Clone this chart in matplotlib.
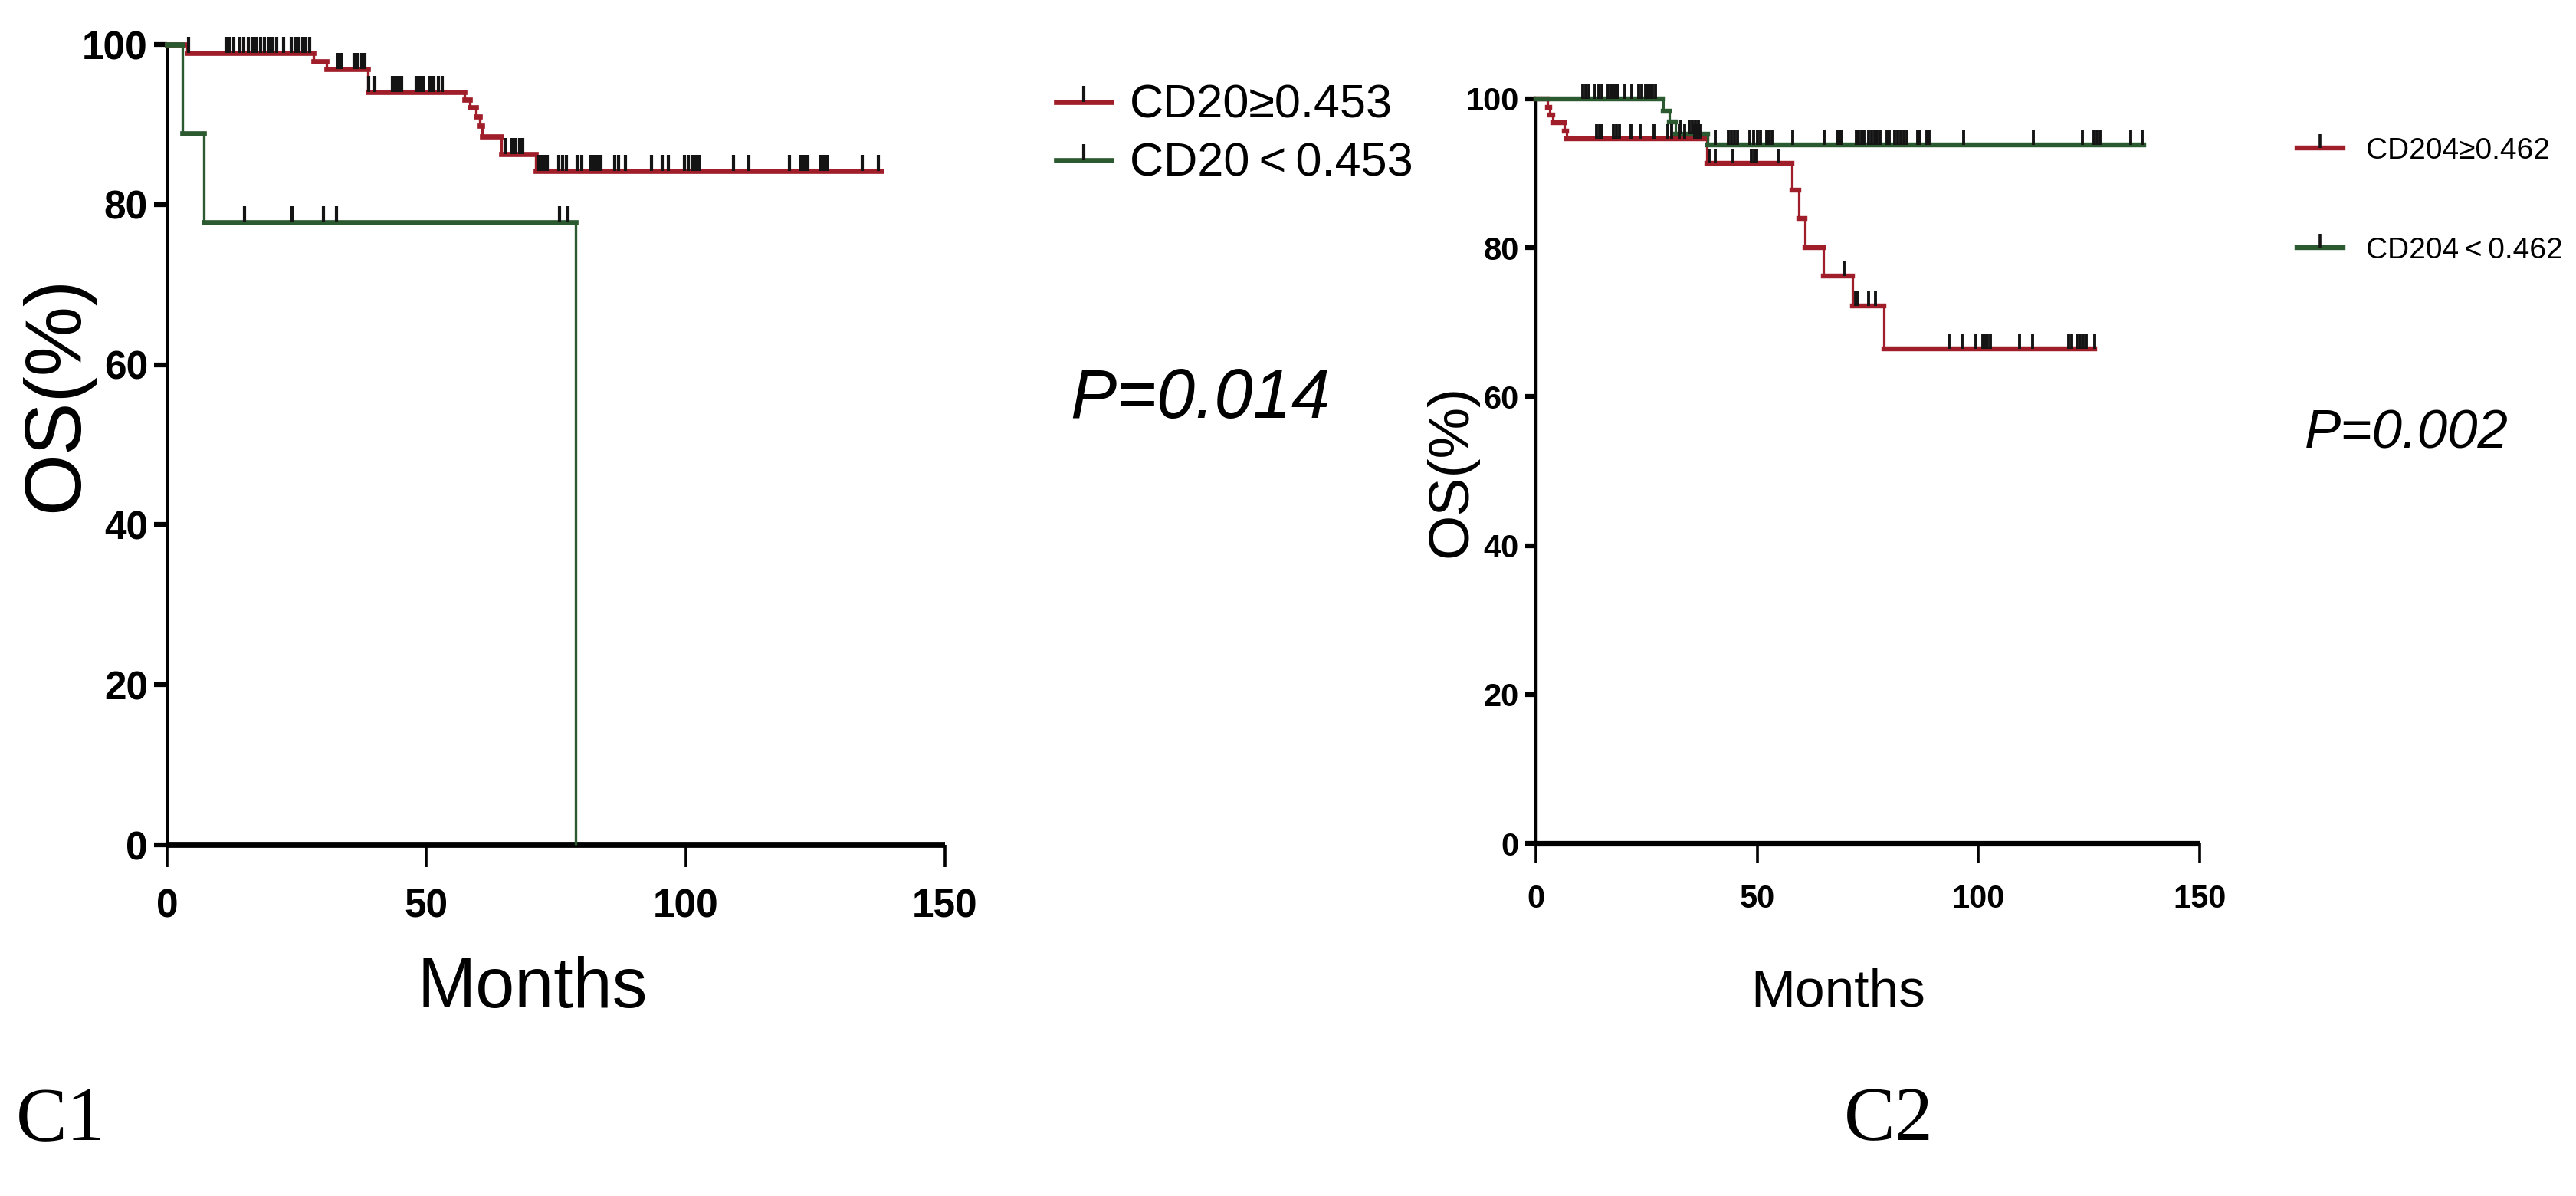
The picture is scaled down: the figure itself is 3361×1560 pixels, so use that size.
import numpy as np
import matplotlib
matplotlib.use("Agg")
import matplotlib.pyplot as plt
from matplotlib.path import Path
from matplotlib.lines import Line2D

# ---------------- data ----------------
# Panel C1 (CD20)
c1_hi_label = "CD20\u22650.453"
c1_hi_event_t = [3.8, 28.3, 30.8, 38.7, 57.4, 58.4, 59.5, 60.3, 60.8, 64.5, 71.1]
c1_hi_event_s = [98.9, 97.9, 96.9, 94.1, 93.1, 92.1, 91.0, 89.8, 88.5, 86.3, 84.2]
c1_hi_end = 137.7
c1_hi_cens = [4.1, 11.4, 12.0, 12.9, 14.0, 14.8, 15.6, 16.4, 17.2, 18.0, 18.8, 19.6,
              20.4, 21.2, 22.5, 24.0, 24.7, 25.4, 26.1, 26.8, 27.5,
              32.9, 33.5, 36.0, 36.8, 37.5, 38.2,
              38.9, 40.0, 43.4, 44.0, 44.6, 45.2, 48.1, 48.8, 49.4, 50.7, 51.5, 52.3, 53.1,
              65.1, 66.5, 67.2, 68.0, 68.6,
              71.5, 72.1, 72.7, 73.3, 75.5, 76.2, 77.0, 79.1, 79.9, 81.7, 82.3, 83.0, 83.6,
              86.3, 87.0, 88.4, 93.4, 95.5, 96.6, 99.7, 100.5, 101.2, 102.0, 102.6,
              109.2, 112.1, 120.0, 122.2, 122.8, 123.5, 126.1, 126.6, 127.2, 134.0, 137.2]

c1_lo_label = "CD20\u2009<\u20090.453"
c1_lo_event_t = [3.0, 7.1, 78.8]
c1_lo_event_s = [88.9, 77.8, 0.0]
c1_lo_end = 78.8
c1_lo_cens = [15.0, 24.1, 30.1, 32.7, 75.6, 77.3]
c1_p = "P=0.014"

# Panel C2 (CD204)
c2_hi_label = "CD204\u22650.462"
c2_hi_event_t = [2.6, 3.2, 3.8, 6.4, 7.0, 38.7, 57.9, 59.4, 60.8, 65.0, 71.5, 78.7]
c2_hi_event_s = [98.9, 97.8, 96.8, 95.7, 94.6, 91.3, 87.7, 83.9, 80.0, 76.2, 72.2, 66.4]
c2_hi_end = 126.3
c2_hi_cens = [13.7, 14.3, 14.9, 17.5, 18.2, 18.9, 21.5, 23.6, 26.6, 29.8, 30.7, 32.4,
              33.6, 35.9, 36.6, 37.3,
              39.2, 40.6, 44.6, 48.7, 49.3, 49.8, 54.7,
              69.6, 72.3, 72.7, 75.1, 76.8,
              93.4, 96.3, 99.5, 100.9, 101.5, 102.1, 102.7, 109.3, 112.2, 120.3, 121.1,
              122.3, 123.0, 123.6, 124.3, 126.3]

c2_lo_label = "CD204\u2009<\u20090.462"
c2_lo_event_t = [28.8, 30.2, 31.5, 38.8]
c2_lo_event_s = [98.4, 96.9, 95.3, 93.8]
c2_lo_end = 137.3
c2_lo_cens = [10.6, 11.2, 12.0, 13.4, 14.2, 14.9, 16.3, 16.9, 17.5, 18.0, 18.6, 20.1,
              21.7, 23.2, 23.9, 24.7, 25.3, 25.8, 26.4, 27.0,
              32.7, 34.7, 35.4, 36.1, 36.8,
              40.6, 43.5, 44.2, 44.8, 45.5, 48.4, 49.2, 50.0, 50.7, 52.1, 52.7, 53.3,
              58.1, 65.1, 68.0, 68.6, 69.1, 72.4, 73.0, 73.6, 74.1, 75.2, 75.8, 76.5,
              77.1, 77.8, 79.3, 79.9, 81.0, 81.7, 82.4, 83.2, 83.9, 86.2, 86.8, 88.3,
              88.9, 96.6, 112.5, 123.5, 126.1, 126.8, 127.5, 134.4, 137.0]
c2_p = "P=0.002"

x_ticks = [0, 50, 100, 150]
y_ticks = [0, 20, 40, 60, 80, 100]

# ---------------- style ----------------
RED = "#A01E2A"
GREEN = "#2C5A30"
TICKC = "#141414"
SANS = ["Liberation Sans Narrow", "Liberation Sans", "DejaVu Sans"]
SERIF = ["Liberation Serif", "DejaVu Serif"]
UP = Path([(0, 0), (0, 1)])

W, H = 3362, 1560
fig = plt.figure(figsize=(W / 100, H / 100), dpi=100)


def surv_at(times, ev_t, ev_s):
    T = np.array([0.0] + list(ev_t))
    S = np.array([100.0] + list(ev_s))
    idx = np.searchsorted(T, np.asarray(times), side="right") - 1
    return S[idx]


def draw_km(ax, ev_t, ev_s, t_end, cens, color, hlw, vlw, msz, mew):
    T = [0.0] + list(ev_t)
    S = [100.0] + list(ev_s)
    ax.hlines(S, T, T[1:] + [t_end], colors=color, lw=hlw, clip_on=False,
              capstyle="projecting", zorder=3)
    ax.vlines(T[1:], S[:-1], S[1:], colors=color, lw=vlw, clip_on=False, zorder=3)
    cy = surv_at(cens, ev_t, ev_s)
    ax.plot(cens, cy, ls="none", marker=UP, markersize=msz, mew=mew,
            mec=TICKC, mfc="none", clip_on=False, zorder=4)


def style_axes(ax, tick_fs, xlen, ylen, bw, lw, xpad, ypad):
    ax.set_xlim(0, 150)
    ax.set_ylim(0, 100)
    ax.set_xticks(x_ticks)
    ax.set_yticks(y_ticks)
    for s in ("top", "right"):
        ax.spines[s].set_visible(False)
    ax.spines["bottom"].set_linewidth(bw)
    ax.spines["left"].set_linewidth(lw)
    ax.spines["bottom"].set_capstyle("butt")
    ax.tick_params(axis="x", length=xlen, width=2.6, pad=xpad, labelsize=tick_fs)
    ax.tick_params(axis="y", length=ylen, width=4.5, pad=ypad, labelsize=tick_fs)
    for lab in ax.get_xticklabels() + ax.get_yticklabels():
        lab.set_fontfamily(SANS)
        lab.set_fontweight("bold")


def km_handle(color, lw, msz, mew):
    return Line2D([], [], color=color, lw=lw, marker=UP, markersize=msz, mew=mew,
                  mec=TICKC, mfc="none")


# ---------------- panel C1 ----------------
ax1 = fig.add_axes([218 / W, 458 / H, 1015 / W, 1044 / H])
style_axes(ax1, 37, 21, 12, 5.6, 3.4, 20, 6)
draw_km(ax1, c1_hi_event_t, c1_hi_event_s, c1_hi_end, c1_hi_cens, RED, 4.8, 2.4, 30, 3.0)
draw_km(ax1, c1_lo_event_t, c1_lo_event_s, c1_lo_end, c1_lo_cens, GREEN, 4.8, 2.4, 30, 3.0)
ax1.set_xlabel("Months", fontsize=66, fontfamily=SANS, va="center")
ax1.xaxis.set_label_coords(0.47, -0.18)
ax1.set_ylabel("OS(%)", fontsize=74, fontfamily=SANS, va="center")
ax1.yaxis.set_label_coords(-0.141, 0.563)

leg1 = ax1.legend([km_handle(RED, 4.8, 30, 3.0), km_handle(GREEN, 4.8, 30, 3.0)],
                  [c1_hi_label, c1_lo_label], loc="upper left",
                  bbox_to_anchor=(1378 / W, 1 - 110 / H), bbox_transform=fig.transFigure,
                  frameon=False, borderpad=0, borderaxespad=0, handlelength=1.18,
                  handletextpad=0.39, labelspacing=0.31, numpoints=1,
                  prop={"family": SANS, "size": 44})
fig.text(1396 / W, 1 - 522 / H, c1_p, fontsize=65, fontstyle="italic",
         fontfamily=SANS, ha="left", va="center")

# ---------------- panel C2 ----------------
ax2 = fig.add_axes([2004 / W, 460 / H, 866 / W, 971 / H])
style_axes(ax2, 30, 19, 10, 5.2, 3.2, 19, 6)
draw_km(ax2, c2_hi_event_t, c2_hi_event_s, c2_hi_end, c2_hi_cens, RED, 4.6, 2.3, 28, 2.8)
draw_km(ax2, c2_lo_event_t, c2_lo_event_s, c2_lo_end, c2_lo_cens, GREEN, 4.6, 2.3, 28, 2.8)
ax2.set_xlabel("Months", fontsize=50, fontfamily=SANS, va="center")
ax2.xaxis.set_label_coords(0.455, -0.20)
ax2.set_ylabel("OS(%)", fontsize=54, fontfamily=SANS, va="center")
ax2.yaxis.set_label_coords(-0.127, 0.50)

leg2 = ax2.legend([km_handle(RED, 4.6, 26, 2.6), km_handle(GREEN, 4.6, 26, 2.6)],
                  [c2_hi_label, c2_lo_label], loc="upper left",
                  bbox_to_anchor=(2997 / W, 1 - 179 / H), bbox_transform=fig.transFigure,
                  frameon=False, borderpad=0, borderaxespad=0, handlelength=1.54,
                  handletextpad=0.77, labelspacing=2.41, numpoints=1,
                  prop={"family": SANS, "size": 28})
fig.text(3007 / W, 1 - 566 / H, c2_p, fontsize=51, fontstyle="italic",
         fontfamily=SANS, ha="left", va="center")

# ---------------- panel letters ----------------
fig.text(21 / W, 1 - 1462 / H, "C1", fontsize=72, fontfamily=SERIF, ha="left", va="center")
fig.text(2406 / W, 1 - 1462 / H, "C2", fontsize=72, fontfamily=SERIF, ha="left", va="center")

fig.savefig("out.png", dpi=100, facecolor="white")
